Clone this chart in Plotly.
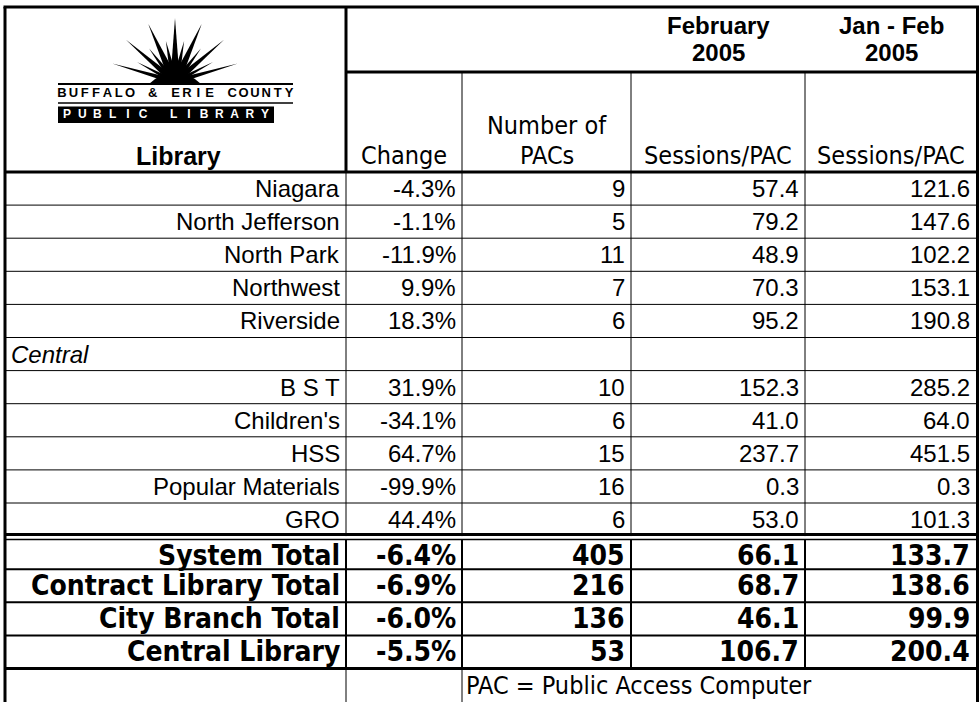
import math
import plotly.graph_objects as go

# ---------------- data ----------------
branch_names = ["Niagara", "North Jefferson", "North Park", "Northwest", "Riverside"]
branch_change = [-4.3, -1.1, -11.9, 9.9, 18.3]
branch_pacs = [9, 5, 11, 7, 6]
branch_feb = [57.4, 79.2, 48.9, 70.3, 95.2]
branch_janfeb = [121.6, 147.6, 102.2, 153.1, 190.8]

central_label = "Central"
central_names = ["B S T", "Children's", "HSS", "Popular Materials", "GRO"]
central_change = [31.9, -34.1, 64.7, -99.9, 44.4]
central_pacs = [10, 6, 15, 16, 6]
central_feb = [152.3, 41.0, 237.7, 0.3, 53.0]
central_janfeb = [285.2, 64.0, 451.5, 0.3, 101.3]

total_names = ["System Total", "Contract Library Total", "City Branch Total", "Central Library"]
total_change = [-6.4, -6.9, -6.0, -5.5]
total_pacs = [405, 216, 136, 53]
total_feb = [66.1, 68.7, 46.1, 106.7]
total_janfeb = [133.7, 138.6, 99.9, 200.4]

col_headers = ["Library", "Change", "Number of", "PACs", "Sessions/PAC", "Sessions/PAC"]
period_headers = [("February", "2005"), ("Jan - Feb", "2005")]
footnote = "PAC = Public Access Computer"
logo_line1 = "BUFFALO & ERIE COUNTY"
logo_line2 = "PUBLIC LIBRARY"

# ---------------- layout geometry ----------------
W, H = 979, 702
XE = [5, 346, 462, 631, 805, 977.5]
Y_TOP, Y_MID, Y_HEAD, ROW_H = 7, 72, 172, 33.1
PAD = 5

BODY = "Liberation Sans, Arial, sans-serif"
NARROW = "Liberation Sans Narrow, Arial Narrow, DejaVu Sans Condensed, sans-serif"
BODY_SIZE = 24
HEAD_SIZE = 25
TOT_SIZE = 28

fig = go.Figure()
shapes = []
ann = []


def hline(y, x0, x1, w):
    shapes.append(dict(type="line", xref="x", yref="y", x0=x0, x1=x1, y0=y, y1=y,
                       line=dict(color="black", width=w)))


def vline(x, y0, y1, w):
    shapes.append(dict(type="line", xref="x", yref="y", x0=x, x1=x, y0=y0, y1=y1,
                       line=dict(color="black", width=w)))


def text(x, y, s, anchor, family, size, bold=False, italic=False, color="black"):
    if bold:
        s = "<b>" + s + "</b>"
    if italic:
        s = "<i>" + s + "</i>"
    ann.append(dict(x=x, y=y, xref="x", yref="y", text=s, showarrow=False,
                    xanchor=anchor, yanchor="middle", borderpad=0,
                    font=dict(family=family, size=size, color=color)))


# ---------------- body rows ----------------
body_rows = []
for n, c, p, f, j in zip(branch_names, branch_change, branch_pacs, branch_feb, branch_janfeb):
    body_rows.append((n, c, p, f, j))
body_rows.append((central_label, None, None, None, None))
for n, c, p, f, j in zip(central_names, central_change, central_pacs, central_feb, central_janfeb):
    body_rows.append((n, c, p, f, j))

for i, (n, c, p, f, j) in enumerate(body_rows):
    yc = Y_HEAD + (i + 0.5) * ROW_H
    if c is None:
        text(XE[0] + 5, yc, n, "left", BODY, BODY_SIZE, italic=True)
        continue
    text(XE[1] - PAD, yc, n, "right", BODY, BODY_SIZE)
    text(XE[2] - PAD, yc, f"{c:.1f}%", "right", BODY, BODY_SIZE)
    text(XE[3] - PAD, yc, f"{p}", "right", BODY, BODY_SIZE)
    text(XE[4] - PAD, yc, f"{f:.1f}", "right", BODY, BODY_SIZE)
    text(XE[5] - PAD - 2, yc, f"{j:.1f}", "right", BODY, BODY_SIZE)

n_body = len(body_rows)
y_dbl = Y_HEAD + n_body * ROW_H
for k, (n, c, p, f, j) in enumerate(zip(total_names, total_change, total_pacs, total_feb, total_janfeb)):
    yc = Y_HEAD + (n_body + k + 0.5) * ROW_H + (2.5 if k == 0 else 0)
    text(XE[1] - PAD, yc, n, "right", NARROW, TOT_SIZE, bold=True)
    text(XE[2] - PAD, yc, f"{c:.1f}%", "right", NARROW, TOT_SIZE, bold=True)
    text(XE[3] - PAD, yc, f"{p}", "right", NARROW, TOT_SIZE, bold=True)
    text(XE[4] - PAD, yc, f"{f:.1f}", "right", NARROW, TOT_SIZE, bold=True)
    text(XE[5] - PAD - 2, yc, f"{j:.1f}", "right", NARROW, TOT_SIZE, bold=True)

y_tot_end = Y_HEAD + (n_body + len(total_names)) * ROW_H
y_foot = y_tot_end + 0.5 * ROW_H
text(XE[2] + 3, y_foot, footnote, "left", NARROW, 25)

# ---------------- headers ----------------
text((XE[0] + XE[1]) / 2 + 3, 156, col_headers[0], "center", BODY, 25, bold=True)
text((XE[1] + XE[2]) / 2, 155, col_headers[1], "center", NARROW, HEAD_SIZE)
text((XE[2] + XE[3]) / 2, 125, col_headers[2], "center", NARROW, HEAD_SIZE)
text((XE[2] + XE[3]) / 2, 155, col_headers[3], "center", NARROW, HEAD_SIZE)
text((XE[3] + XE[4]) / 2, 155, col_headers[4], "center", NARROW, HEAD_SIZE)
text((XE[4] + XE[5]) / 2, 155, col_headers[5], "center", NARROW, HEAD_SIZE)
for ci, (l1, l2) in zip((3, 4), period_headers):
    xc = (XE[ci] + XE[ci + 1]) / 2
    text(xc, 25, l1, "center", BODY, 24, bold=True)
    text(xc, 52, l2, "center", BODY, 24, bold=True)

# ---------------- grid lines ----------------
hline(Y_TOP, XE[0] - 1.5, XE[5] + 1.5, 3)
vline(XE[0], Y_TOP, H, 3)
vline(XE[5], Y_TOP, H, 3)
vline(XE[1], Y_TOP, Y_HEAD, 3)
hline(Y_MID, XE[1], XE[5], 3)
for x in XE[2:5]:
    vline(x, Y_MID, Y_HEAD, 1)
hline(Y_HEAD, XE[0], XE[5], 3)
for x in XE[1:5]:
    vline(x, Y_HEAD, y_dbl, 1)
for i in range(1, n_body):
    hline(Y_HEAD + i * ROW_H, XE[0], XE[5], 1)
hline(y_dbl - 1.5, XE[0], XE[5], 3)
hline(y_dbl + 3.5, XE[0], XE[5], 1.5)
for x in XE[1:5]:
    vline(x, y_dbl + 3.5, y_tot_end, 2)
for k in range(1, len(total_names)):
    hline(Y_HEAD + (n_body + k) * ROW_H, XE[0], XE[5], 2)
hline(y_tot_end, XE[0], XE[5], 3)
for x in XE[1:3]:
    vline(x, y_tot_end, H, 1)

# ---------------- logo ----------------
cx, cy = 175, 84
long_rays = [18, 42, 66, 90, 114, 138, 162]
short_rays = [30, 54, 78, 102, 126, 150]
for angs, L, w in ((long_rays, 66, 5), (short_rays, 44, 4)):
    for a in angs:
        r = math.radians(a)
        tx, ty = cx + L * math.cos(r), cy - L * math.sin(r)
        px, py = math.sin(r), math.cos(r)
        x1, y1 = cx + w * px, min(cy, cy + w * py)
        x2, y2 = cx - w * px, min(cy, cy - w * py)
        shapes.append(dict(type="path", xref="x", yref="y",
                           path=f"M {x1:.1f},{y1:.1f} L {tx:.1f},{ty:.1f} L {x2:.1f},{y2:.1f} Z",
                           fillcolor="black", line=dict(width=0)))
shapes.append(dict(type="path", xref="x", yref="y",
                   path=f"M {cx-26},{cy} Q {cx},{cy-24} {cx+26},{cy} Z",
                   fillcolor="black", line=dict(width=0)))
hline(cy, 58, 293, 2)
hline(103, 58, 293, 1.5)
shapes.append(dict(type="rect", xref="x", yref="y", x0=58, x1=274, y0=106.5, y1=123,
                   fillcolor="black", line=dict(width=0), layer="below"))

n1 = len(logo_line1)
xs1 = [62 + i * (289 - 62) / (n1 - 1) for i in range(n1)]
fig.add_trace(go.Scatter(x=xs1, y=[94] * n1, mode="text", text=list(logo_line1),
                         textfont=dict(family=BODY, size=13, color="black", weight="bold"),
                         hoverinfo="skip", showlegend=False))
n2 = len(logo_line2)
xs2 = [67 + i * (265 - 67) / (n2 - 1) for i in range(n2)]
fig.add_trace(go.Scatter(x=xs2, y=[115] * n2, mode="text", text=list(logo_line2),
                         textfont=dict(family=BODY, size=12, color="white", weight="bold"),
                         hoverinfo="skip", showlegend=False))

fig.update_layout(
    width=W, height=H,
    margin=dict(l=0, r=0, t=0, b=0),
    paper_bgcolor="white", plot_bgcolor="white",
    xaxis=dict(range=[0, W], visible=False, fixedrange=True),
    yaxis=dict(range=[H, 0], visible=False, fixedrange=True),
    shapes=shapes, annotations=ann, showlegend=False,
)

fig.write_html(
    "out.html",
    config={"displayModeBar": False},
    post_script="document.body.style.margin='0px';"
                "document.body.style.overflow='hidden';"
                "document.documentElement.style.overflow='hidden';",
)
